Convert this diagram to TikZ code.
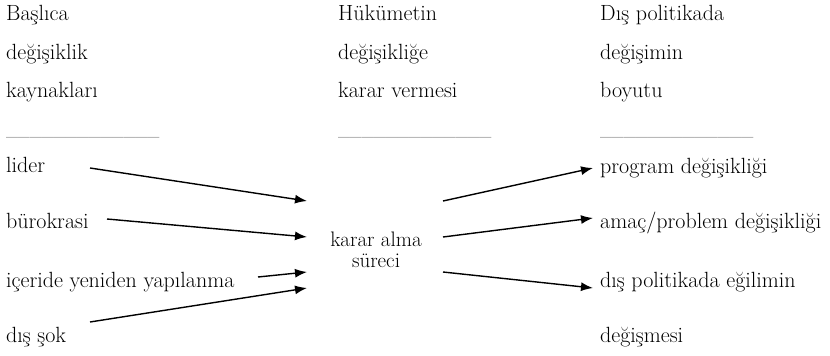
\documentclass[tikz,border=0pt]{standalone}
\usepackage{tikz}
\usetikzlibrary{arrows.meta}

\begin{document}
\begin{tikzpicture}[x=1pt,y=-1pt,
  lbl/.style={anchor=base west,inner sep=0pt,font=\fontsize{22}{24}\selectfont},
  rule/.style={anchor=base west,inner sep=0pt,font=\fontsize{17}{20}\selectfont},
  arr/.style={line width=1.4pt,-{Latex[length=12pt,width=9pt]}}]
  \useasboundingbox (0,0) rectangle (830,356);
  % column heads
  \node[lbl] (h1a) at (6,20) {Başlıca};
  \node[lbl] (h1b) at (6,59) {değişiklik};
  \node[lbl] (h1c) at (6,97) {kaynakları};
  \node[rule] (h1d) at (6,135) {\_\_\_\_\_\_\_\_\_\_\_\_\_};
  \node[lbl] (h2a) at (338,20) {Hükümetin};
  \node[lbl] (h2b) at (338,59) {değişikliğe};
  \node[lbl] (h2c) at (338,97) {karar vermesi};
  \node[rule] (h2d) at (338,135) {\_\_\_\_\_\_\_\_\_\_\_\_\_};
  \node[lbl] (h3a) at (600,20) {Dış politikada};
  \node[lbl] (h3b) at (600,59) {değişimin};
  \node[lbl] (h3c) at (600,97) {boyutu};
  \node[rule] (h3d) at (600,135) {\_\_\_\_\_\_\_\_\_\_\_\_\_};
  % sources
  \node[lbl] (lider) at (6,172) {lider};
  \node[lbl] (buro) at (6,228) {bürokrasi};
  \node[lbl] (iceride) at (6,287) {içeride yeniden yapılanma};
  \node[lbl] (sok) at (6,342) {dış şok};
  % decision
  \node[align=center,inner sep=0pt,font=\fontsize{21}{21}\selectfont] (karar) at (376,250)
    {karar alma\\süreci};
  % outcomes
  \node[lbl] (program) at (600,173) {program değişikliği};
  \node[lbl] (amac) at (600,228) {amaç/problem değişikliği};
  \node[lbl] (egilim) at (600,287) {dış politikada eğilimin};
  \node[lbl] (degisme) at (600,342) {değişmesi};
  % arrow ends
  \coordinate (s1) at (90,168);  \coordinate (e1) at (307,201);
  \coordinate (s2) at (107,219); \coordinate (e2) at (307,237);
  \coordinate (s3) at (258,277); \coordinate (e3) at (307,272);
  \coordinate (s4) at (90,322);  \coordinate (e4) at (307,288);
  \coordinate (t1) at (443,201); \coordinate (f1) at (593,168);
  \coordinate (t2) at (443,237); \coordinate (f2) at (593,218);
  \coordinate (t3) at (443,272); \coordinate (f3) at (593,288);
  \draw[arr] (s1) -- (e1);
  \draw[arr] (s2) -- (e2);
  \draw[arr] (s3) -- (e3);
  \draw[arr] (s4) -- (e4);
  \draw[arr] (t1) -- (f1);
  \draw[arr] (t2) -- (f2);
  \draw[arr] (t3) -- (f3);
\end{tikzpicture}
\end{document}
